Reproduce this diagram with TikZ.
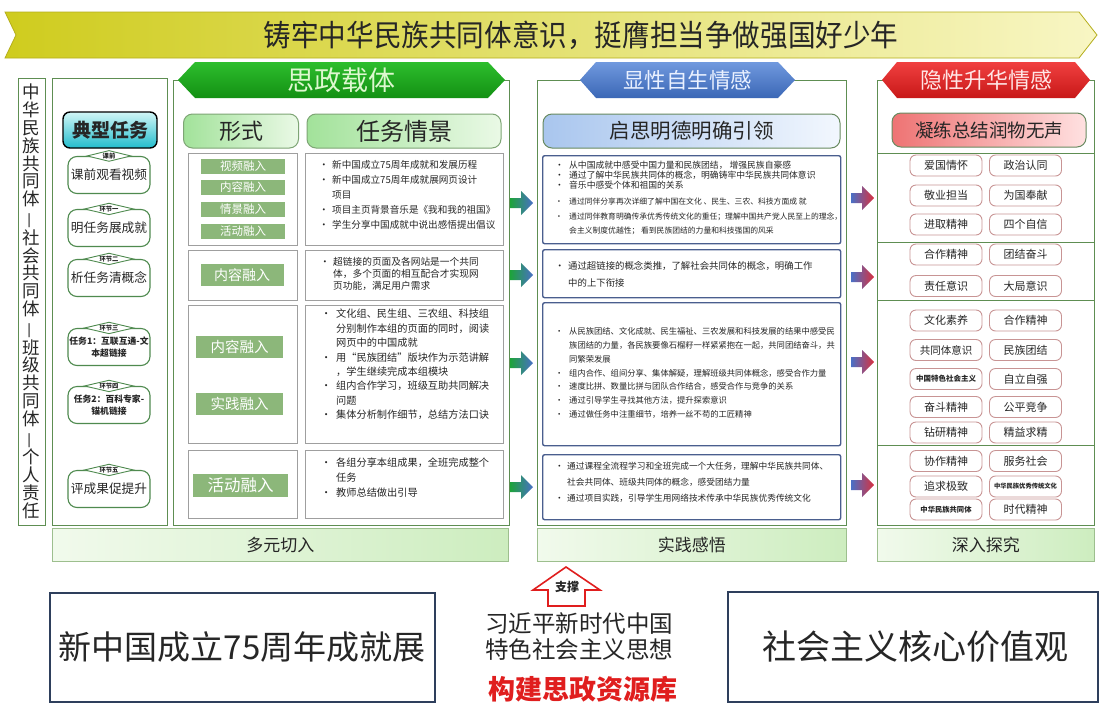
\documentclass[tikz,border=0pt]{standalone}
\usepackage{fontspec}
\setmainfont{Noto Sans CJK SC}
\usetikzlibrary{shapes.geometric}
\XeTeXlinebreaklocale "zh"
\XeTeXlinebreakskip=0pt plus 1pt
\definecolor{pgreen}{HTML}{5E8E52}
\definecolor{fgreen}{HTML}{8CB77A}
\definecolor{mblue}{HTML}{4A5E8E}
\definecolor{pillc}{HTML}{C89494}
\definecolor{dkbox}{HTML}{2E3F5C}
\definecolor{tgreen}{HTML}{4F8A4F}
\definecolor{ban1}{HTML}{CFCC1E}
\definecolor{ban2}{HTML}{F8F6C4}
\definecolor{banb}{HTML}{B5AE1C}
\definecolor{hg1}{HTML}{2DBE2D}
\definecolor{hg2}{HTML}{139013}
\definecolor{hgt}{HTML}{DDF8CF}
\definecolor{hb1}{HTML}{7099DE}
\definecolor{hb2}{HTML}{3B67B6}
\definecolor{hbt}{HTML}{EAF1FF}
\definecolor{hr1}{HTML}{F04040}
\definecolor{hr2}{HTML}{C81818}
\definecolor{hrt}{HTML}{FFE6E6}
\definecolor{txt}{HTML}{262626}
\definecolor{ttop}{HTML}{D2F7F7}
\definecolor{tbot}{HTML}{22BCCC}
\definecolor{hdl}{HTML}{A2E29A}
\definecolor{hdr}{HTML}{EAF9E6}
\definecolor{bl1}{HTML}{F1FAEC}
\definecolor{bl2}{HTML}{CDEDBF}
\definecolor{bll}{HTML}{9DBF8E}
\definecolor{mhl}{HTML}{A9C6EE}
\definecolor{mhr}{HTML}{F2F7FE}
\definecolor{rhl}{HTML}{EE7373}
\definecolor{rhr}{HTML}{FFE1E1}
\definecolor{agreen}{HTML}{1DA33A}
\definecolor{ablue}{HTML}{4A70C6}
\definecolor{ared}{HTML}{D8303E}
\definecolor{redtxt}{HTML}{E01E1E}
\newlength{\bulw}
\setlength{\bulw}{13pt}
\newcommand{\bul}{\makebox[\bulw][l]{•}}
\newcommand{\bind}{\hspace*{\bulw}}
\newcommand{\fsz}[2]{\fontsize{#1}{#2}\selectfont}
\newcommand{\vdsh}{\rotatebox[origin=c]{90}{—}}
\newcommand{\blockarrow}[4]{\begin{scope}[shift={(#1,#2)}]\path[left color=#3, right color=#4] (0,-5) -- (11,-5) -- (11,-12) -- (23,0) -- (11,12) -- (11,5) -- (0,5) -- cycle;\end{scope}}
\begin{document}
\begin{tikzpicture}[x=1pt,y=-1pt,
  every node/.style={text=txt},
  panel/.style={draw=pgreen, line width=1.1pt, fill=white, rectangle, inner sep=0, anchor=north west},
  inbox/.style={draw=gray!75, line width=0.9pt, fill=white, rectangle, inner sep=0, anchor=north west},
  mbox/.style={draw=mblue, line width=1.4pt, fill=white, rounded corners=2pt, rectangle, inner sep=0, anchor=north west},
  formtag/.style={fill=fgreen, text=white, inner sep=0, rectangle},
  pillbx/.style={draw=pillc, line width=0.9pt, fill=white, rounded corners=6pt, minimum width=72, minimum height=21, inner sep=0, font=\fsz{11}{11}},
  taskitem/.style={draw=tgreen, line width=1.1pt, rounded corners=9pt, fill=white, minimum width=82, minimum height=37, align=center, inner sep=1pt, font=\fsz{12.7}{14}},
  stagetag/.style={diamond, aspect=4.2, draw=tgreen, line width=0.9pt, fill=white, inner sep=0.5pt, minimum width=44, minimum height=11, font=\fsz{6.3}{7}\bfseries},
  greenhead/.style={draw=pgreen!80, line width=1pt, rounded corners=9pt, left color=hdl, right color=hdr, minimum height=34, inner sep=0},
  bottombar/.style={draw=bll, line width=0.8pt, left color=bl1, right color=bl2, rectangle, inner sep=0, anchor=north west, minimum height=33, font=\fsz{17}{17}},
  bigbox/.style={draw=dkbox, line width=1.6pt, fill=white, rectangle, inner sep=0, anchor=north west}
]
\useasboundingbox (0,0) rectangle (1100,702);
\fill[white] (0,0) rectangle (1100,702);

% ---- top banner
\path[draw=banb, line width=0.8pt, left color=ban1, right color=ban2] (5,12) -- (1079,12) -- (1097,35) -- (1079,58) -- (5,58) -- (16,35) -- cycle;
\node[font=\fsz{30}{30}, inner sep=0] (title) at (581,35) {\scalebox{0.92}[1]{铸牢中华民族共同体意识，挺膺担当争做强国好少年}};

% ---- panels
\node[panel, minimum width=27, minimum height=447] (leftv) at (18,78) {};
\node[panel, minimum width=115, minimum height=447] (taskp) at (52,78) {};
\node[panel, minimum width=336, minimum height=445] (szp) at (173,80) {};
\node[panel, minimum width=309, minimum height=445] (midp) at (537,80) {};
\node[panel, minimum width=217, minimum height=445] (rightp) at (877,80) {};

% ---- hexagon headers
\path[top color=hg1, bottom color=hg2] (178,80) -- (195,62) -- (488,62) -- (505,80) -- (488,98) -- (195,98) -- cycle;
\node[font=\fsz{27}{27}, text=hgt, inner sep=0] (hz) at (341.5,80) {思政载体};
\path[top color=hb1, bottom color=hb2] (580,80) -- (596,62) -- (778,62) -- (795,80) -- (778,98) -- (596,98) -- cycle;
\node[font=\fsz{21.5}{22}, text=hbt, inner sep=0] (hx) at (687.5,80) {显性自生情感};
\path[top color=hr1, bottom color=hr2] (882,80) -- (897,62) -- (1075,62) -- (1090,80) -- (1075,98) -- (897,98) -- cycle;
\node[font=\fsz{22}{22}, text=hrt, inner sep=0] (hy) at (986,80) {隐性升华情感};

% ---- left vertical text
\node[align=center, font=\fsz{17.5}{17.8}, inner sep=0] (vt) at (31.5,301.5) {中\\华\\民\\族\\共\\同\\体\\\vdsh\\社\\会\\共\\同\\体\\\vdsh\\班\\级\\共\\同\\体\\\vdsh\\个\\人\\责\\任};

% ---- typical task column
\node[draw=black, line width=1.4pt, rounded corners=7pt, top color=ttop, bottom color=tbot, minimum width=94, minimum height=36, inner sep=0, font=\fsz{19}{19}\bfseries] (tt) at (110,130) {典型任务};
\node[taskitem] (c1) at (109,175) {课前观看视频};
\node[stagetag] (l1) at (c1.north) {课前};
\node[taskitem] (c2) at (109,228) {明任务展成就};
\node[stagetag] (l2) at (c2.north) {环节一};
\node[taskitem] (c3) at (109,278) {析任务清概念};
\node[stagetag] (l3) at (c3.north) {环节二};
\node[taskitem, font=\fsz{8.8}{12}\bfseries] (c4) at (109,347) {任务1：互联互通-文\\本超链接};
\node[stagetag] (l4) at (c4.north) {环节三};
\node[taskitem, font=\fsz{8.8}{12}\bfseries] (c5) at (109,405) {任务2：百科专家-\\锚机链接};
\node[stagetag] (l5) at (c5.north) {环节四};
\node[taskitem] (c6) at (109,489) {评成果促提升};
\node[stagetag] (l6) at (c6.north) {环节五};

% ---- 思政载体 inner
\node[greenhead, minimum width=115, font=\fsz{22}{22}] (hform) at (241,131) {形式};
\node[greenhead, minimum width=194, font=\fsz{24}{24}] (hscen) at (404,131) {任务情景};

\node[inbox, minimum width=109, minimum height=92] (fb1) at (188,153) {};
\node[inbox, minimum width=109, minimum height=50] (fb2) at (188,250) {};
\node[inbox, minimum width=109, minimum height=138] (fb3) at (188,305) {};
\node[inbox, minimum width=109, minimum height=68] (fb4) at (188,450) {};
\node[inbox, minimum width=198, minimum height=92] (sb1) at (305,153) {};
\node[inbox, minimum width=198, minimum height=50] (sb2) at (305,250) {};
\node[inbox, minimum width=198, minimum height=138] (sb3) at (305,305) {};
\node[inbox, minimum width=198, minimum height=68] (sb4) at (305,450) {};

\node[formtag, minimum width=84, minimum height=15, font=\fsz{11.5}{12}] (t1) at (243,166) {视频融入};
\node[formtag, minimum width=84, minimum height=15, font=\fsz{11.5}{12}] (t2) at (243,187) {内容融入};
\node[formtag, minimum width=84, minimum height=15, font=\fsz{11.5}{12}] (t3) at (243,209) {情景融入};
\node[formtag, minimum width=84, minimum height=15, font=\fsz{11.5}{12}] (t4) at (243,231) {活动融入};
\node[formtag, minimum width=83, minimum height=22, font=\fsz{14}{14}] (t5) at (242,275) {内容融入};
\node[formtag, minimum width=87, minimum height=22, font=\fsz{14.5}{15}] (t6) at (239.5,347) {内容融入};
\node[formtag, minimum width=87, minimum height=22, font=\fsz{14.5}{15}] (t7) at (239.5,404) {实践融入};
\node[formtag, minimum width=95, minimum height=23, font=\fsz{16.5}{17}] (t8) at (240.5,485) {活动融入};

\setlength{\bulw}{13pt}
\node[anchor=west, align=left, inner sep=0, font=\fsz{9.6}{15}] (sb1t) at (319,195) {\bul 新中国成立75周年成就和发展历程\\\bul 新中国成立75周年成就展网页设计\\\bind 项目\\\bul 项目主页背景音乐是《我和我的祖国》\\\bul 学生分享中国成就中说出感悟提出倡议};
\node[anchor=west, align=left, inner sep=0, font=\fsz{9.7}{12}] (sb2t) at (320,274) {\bul 超链接的页面及各网站是一个共同\\\bind 体，多个页面的相互配合才实现网\\\bind 页功能，满足用户需求};
\setlength{\bulw}{15pt}
\node[anchor=west, align=left, inner sep=0, font=\fsz{10.2}{14.4}] (sb3t) at (321,364.5) {\bul 文化组、民生组、三农组、科技组\\\bind 分别制作本组的页面的同时，阅读\\\bind 网页中的中国成就\\\bul 用“民族团结”版块作为示范讲解\\\bind ，学生继续完成本组模块\\\bul 组内合作学习，班级互助共同解决\\\bind 问题\\\bul 集体分析制作细节，总结方法口诀};
\node[anchor=west, align=left, inner sep=0, font=\fsz{10.2}{15}] (sb4t) at (321,478) {\bul 各组分享本组成果，全班完成整个\\\bind 任务\\\bul 教师总结做出引导};

% ---- arrows green->blue
\blockarrow{510}{203}{agreen}{ablue}
\blockarrow{510}{275}{agreen}{ablue}
\blockarrow{510}{363}{agreen}{ablue}
\blockarrow{510}{487}{agreen}{ablue}

% ---- middle column
\node[draw=pgreen!70!gray, line width=1pt, rounded corners=9pt, left color=mhl, right color=mhr, minimum width=297, minimum height=34, inner sep=0, font=\fsz{20.5}{21}] (hmid) at (691.5,131) {启思明德明确引领};
\node[mbox, minimum width=298, minimum height=88] (m1) at (542,155) {};
\node[mbox, minimum width=298, minimum height=48] (m2) at (542,249) {};
\node[mbox, minimum width=298, minimum height=143] (m3) at (542,302) {};
\node[mbox, minimum width=298, minimum height=65] (m4) at (542,454) {};

\setlength{\bulw}{14pt}
\node[anchor=west, align=left, inner sep=0, font=\fsz{8.8}{10}] (m1a) at (555,174.75) {\bul 从中国成就中感受中国力量和民族团结， 增强民族自豪感\\\bul 通过了解中华民族共同体的概念，明确铸牢中华民族共同体意识\\\bul 音乐中感受个体和祖国的关系};
\node[anchor=west, align=left, inner sep=0, font=\fsz{7.8}{14.5}] (m1b) at (555,216.5) {\bul 通过同伴分享再次详细了解中国在文化 、民生、三农、科技方面成 就\\\bul 通过同伴教育明确传承优秀传统文化的重任；理解中国共产党人民至上的理念，\\\bind 会主义制度优越性； 看到民族团结的力量和科技强国的风采};
\setlength{\bulw}{13pt}
\node[anchor=west, align=left, inner sep=0, font=\fsz{9.4}{17}] (m2t) at (555,274.5) {\makebox[\bulw][l]{·}通过超链接的概念类推，了解社会共同体的概念，明确工作\\\bind 中的上下衔接};
\setlength{\bulw}{14pt}
\node[anchor=west, align=left, inner sep=0, font=\fsz{8.3}{13.7}] (m3t) at (555,373) {\bul 从民族团结、文化成就、民生福祉、三农发展和科技发展的结果中感受民\\\bind 族团结的力量，各民族要像石榴籽一样紧紧抱在一起，共同团结奋斗，共\\\bind 同繁荣发展\\\bul 组内合作、组间分享、集体解疑，理解班级共同体概念，感受合作力量\\\bul 速度比拼、数量比拼与团队合作结合，感受合作与竞争的关系\\\bul 通过引导学生寻找其他方法，提升探索意识\\\bul 通过做任务中注重细节，培养一丝不苟的工匠精神};
\setlength{\bulw}{12pt}
\node[anchor=west, align=left, inner sep=0, font=\fsz{8.7}{16}] (m4t) at (555,482) {\bul 通过课程全流程学习和全班完成一个大任务，理解中华民族共同体、\\\bind 社会共同体、班级共同体的概念，感受团结力量\\\bul 通过项目实践，引导学生用网络技术传承中华民族优秀传统文化};

% ---- arrows blue->red
\blockarrow{851}{198}{ablue}{ared}
\blockarrow{851}{277}{ablue}{ared}
\blockarrow{851}{362}{ablue}{ared}
\blockarrow{851}{485}{ablue}{ared}

% ---- right column
\node[draw=pgreen!70!gray, line width=1pt, rounded corners=9pt, left color=rhl, right color=rhr, minimum width=194, minimum height=34, inner sep=0, font=\fsz{18.5}{19}] (hright) at (989,130) {凝练总结润物无声};
\draw[pgreen, line width=1pt] (877,153) -- (1094,153);
\draw[pgreen, line width=1pt] (877,242) -- (1094,242);
\draw[pgreen, line width=1pt] (877,300) -- (1094,300);
\draw[pgreen, line width=1pt] (877,445) -- (1094,445);

\node[pillbx] (p1) at (946,165.5) {爱国情怀};
\node[pillbx] (p2) at (1025.5,165.5) {政治认同};
\node[pillbx] (p3) at (946,195.5) {敬业担当};
\node[pillbx] (p4) at (1025.5,195.5) {为国奉献};
\node[pillbx] (p5) at (946,224.5) {进取精神};
\node[pillbx] (p6) at (1025.5,224.5) {四个自信};
\node[pillbx] (p7) at (946,254.5) {合作精神};
\node[pillbx] (p8) at (1025.5,254.5) {团结奋斗};
\node[pillbx] (p9) at (946,286) {责任意识};
\node[pillbx] (p10) at (1025.5,286) {大局意识};
\node[pillbx] (p11) at (946,320.5) {文化素养};
\node[pillbx] (p12) at (1025.5,320.5) {合作精神};
\node[pillbx, font=\fsz{10.5}{11}] (p13) at (946,350) {共同体意识};
\node[pillbx] (p14) at (1025.5,350) {民族团结};
\node[pillbx, font=\fsz{7.5}{8}\bfseries] (p15) at (946,379) {中国特色社会主义};
\node[pillbx] (p16) at (1025.5,379) {自立自强};
\node[pillbx] (p17) at (946,407) {奋斗精神};
\node[pillbx] (p18) at (1025.5,407) {公平竞争};
\node[pillbx] (p19) at (946,432.5) {钻研精神};
\node[pillbx] (p20) at (1025.5,432.5) {精益求精};
\node[pillbx] (p21) at (946,461) {协作精神};
\node[pillbx] (p22) at (1025.5,461) {服务社会};
\node[pillbx] (p23) at (946,486.5) {追求极致};
\node[pillbx, font=\fsz{6.3}{7}\bfseries] (p24) at (1025.5,486.5) {中华民族优秀传统文化};
\node[pillbx, font=\fsz{7.3}{8}\bfseries] (p25) at (946,509.5) {中华民族共同体};
\node[pillbx] (p26) at (1025.5,509.5) {时代精神};

% ---- bottom bars
\node[bottombar, minimum width=456] (bar1) at (52,528) {};
\node[font=\fsz{17}{17}, inner sep=0] (bar1t) at (bar1.center) {多元切入};
\node[bottombar, minimum width=309] (bar2) at (537,528) {};
\node[font=\fsz{17}{17}, inner sep=0] (bar2t) at (bar2.center) {实践感悟};
\node[bottombar, minimum width=217] (bar3) at (877,528) {};
\node[font=\fsz{17}{17}, inner sep=0] (bar3t) at (bar3.center) {深入探究};

% ---- bottom section
\node[bigbox, minimum width=385, minimum height=109] (bl) at (49,592) {};
\node[font=\fsz{33}{33}, inner sep=0] (blt) at (242,647) {新中国成立75周年成就展};
\node[bigbox, minimum width=370, minimum height=110] (br) at (727,591) {};
\node[font=\fsz{34}{34}, inner sep=0] (brt) at (915,647) {社会主义核心价值观};

\path[draw=redtxt, line width=1.6pt, fill=white] (566,567) -- (600,590) -- (585,590) -- (585,606) -- (548,606) -- (548,590) -- (533,590) -- cycle;
\node[font=\fsz{12}{12}\bfseries, inner sep=0] (zc) at (567,587) {支撑};
\node[align=center, font=\fsz{23.5}{26}, inner sep=0] (xj) at (579,637) {习近平新时代中国\\特色社会主义思想};
\node[font=\fsz{27}{27}\bfseries, text=redtxt, inner sep=0] (gj) at (583,689) {构建思政资源库};
\end{tikzpicture}
\end{document}
